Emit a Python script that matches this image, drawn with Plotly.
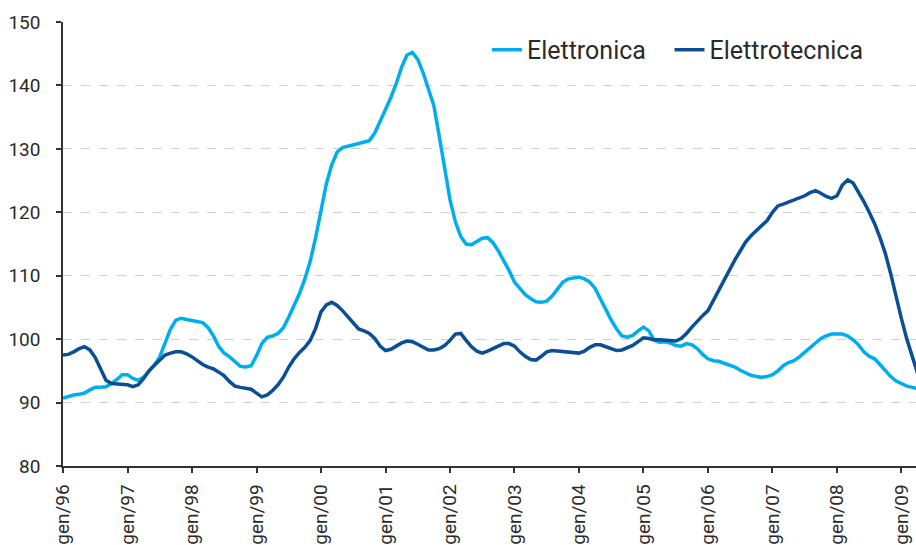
import plotly.graph_objects as go

months = list(range(160))
tick_months = [0, 12, 24, 36, 48, 60, 72, 84, 96, 108, 120, 132, 144, 156]
tick_labels = ["gen/96", "gen/97", "gen/98", "gen/99", "gen/00", "gen/01", "gen/02",
               "gen/03", "gen/04", "gen/05", "gen/06", "gen/07", "gen/08", "gen/09"]

elettronica = [
    90.7, 91.0, 91.2, 91.3, 91.5, 92.0, 92.4, 92.4, 92.5, 93.0, 93.6, 94.4,
    94.4, 93.8, 93.5, 94.0, 94.9, 95.9, 97.2, 99.3, 101.6, 103.0, 103.3, 103.1,
    102.9, 102.8, 102.6, 101.8, 100.5, 98.8, 97.8, 97.2, 96.4, 95.7, 95.6, 95.8,
    97.4, 99.3, 100.3, 100.5, 100.9, 101.8, 103.5, 105.3, 107.2, 109.5, 112.3, 116.0,
    120.5, 124.5, 127.5, 129.5, 130.2, 130.4, 130.6, 130.8, 131.0, 131.3, 132.5, 134.2,
    136.2, 138.1, 140.3, 142.9, 144.8, 145.2, 144.1, 142.0, 139.2, 136.8, 132.0, 127.0,
    122.0, 118.5, 116.2, 115.0, 114.9, 115.4, 115.9, 116.0, 115.2, 113.9, 112.4, 110.8,
    109.0, 107.9, 107.0, 106.4, 105.9, 105.8, 106.0, 106.8, 107.9, 109.0, 109.5, 109.7,
    109.8, 109.5, 109.0, 108.0, 106.3, 104.8, 103.0, 101.6, 100.5, 100.3, 100.6, 101.3,
    101.9, 101.3, 99.8, 99.5, 99.6, 99.4, 99.0, 98.9, 99.3, 99.1, 98.5, 97.6,
    96.9, 96.6, 96.5, 96.2, 95.9, 95.6, 95.1, 94.7, 94.3, 94.1, 94.0, 94.1,
    94.4, 95.0, 95.8, 96.3, 96.6, 97.2, 97.9, 98.6, 99.4, 100.1, 100.5, 100.8,
    100.8, 100.8, 100.5, 99.9, 99.1, 98.0, 97.3, 96.9, 96.0, 95.0, 94.1, 93.4,
    93.0, 92.6, 92.4, 92.2,
]

elettrotecnica = [
    97.5, 97.6, 98.0, 98.5, 98.8, 98.3, 97.1, 95.2, 93.5, 93.0, 92.9, 92.8,
    92.8, 92.5, 92.8, 93.8, 95.0, 95.9, 96.8, 97.5, 97.8, 98.0, 98.0, 97.7,
    97.2, 96.6, 96.0, 95.6, 95.3, 94.8, 94.2, 93.3, 92.6, 92.4, 92.3, 92.1,
    91.5, 90.9, 91.2, 91.9, 92.8, 94.0, 95.6, 96.9, 97.9, 98.7, 99.8, 101.7,
    104.3, 105.4, 105.8, 105.3, 104.5, 103.5, 102.4, 101.6, 101.3, 100.9, 100.1, 98.9,
    98.2, 98.4, 98.9, 99.4, 99.7, 99.6, 99.2, 98.7, 98.3, 98.3, 98.5, 99.0,
    99.8, 100.8, 100.9, 99.8, 98.8, 98.1, 97.8, 98.1, 98.5, 98.9, 99.3, 99.3,
    98.9, 98.0, 97.3, 96.8, 96.7, 97.3, 98.0, 98.2, 98.1, 98.0, 97.9, 97.9,
    97.8, 98.1, 98.7, 99.1, 99.1, 98.8, 98.5, 98.2, 98.3, 98.6, 99.0, 99.6,
    100.2, 100.1, 99.9, 99.9, 99.8, 99.7, 99.7, 100.1, 100.9, 101.9, 102.9, 103.7,
    104.5, 106.1, 107.9, 109.3, 110.9, 112.5, 113.9, 115.3, 116.3, 117.1, 117.8, 118.7,
    120.0, 121.0, 121.3, 121.6, 121.9, 122.2, 122.6, 123.1, 123.4, 123.0, 122.5, 122.2,
    122.6, 124.3, 125.1, 124.6, 123.2, 121.7, 120.0, 118.2, 116.0, 113.5, 110.3, 106.6,
    103.2, 100.0, 97.4, 94.6,
]

y_ticks = [80, 90, 100, 110, 120, 130, 140, 150]

FONT = "Roboto, 'DejaVu Sans', sans-serif"
TXT = "#2b2b2b"

fig = go.Figure()
fig.add_trace(go.Scatter(x=months, y=elettronica, mode="lines", name="Elettronica\u00a0\u00a0\u00a0",
                         line=dict(color="#00aeef", width=3.5)))
fig.add_trace(go.Scatter(x=months, y=elettrotecnica, mode="lines", name="Elettrotecnica",
                         line=dict(color="#0a4f95", width=3.5)))

fig.update_layout(
    width=916, height=545,
    margin=dict(l=63, r=0, t=22, b=79),
    paper_bgcolor="white", plot_bgcolor="white",
    font=dict(family=FONT, color=TXT),
    showlegend=True,
    legend=dict(orientation="h", x=0.497, xanchor="left", y=0.937, yanchor="middle",
                font=dict(size=25, color=TXT), bgcolor="rgba(0,0,0,0)",
                itemwidth=30, tracegroupgap=0),
    xaxis=dict(range=[0, 158.7], tickmode="array", tickvals=tick_months, ticktext=tick_labels,
               tickangle=-90, tickfont=dict(size=19, color=TXT), automargin=False,
               ticklabelstandoff=4,
               showgrid=False, zeroline=False, showline=True, linecolor="#333333", linewidth=1.5,
               ticks="outside", ticklen=5, tickcolor="#333333", tickwidth=1.5),
    yaxis=dict(range=[80, 150], tickmode="array", tickvals=y_ticks, automargin=False,
               tickfont=dict(size=19, color=TXT), ticklabelstandoff=12,
               showgrid=True, gridcolor="#d0d0d0", griddash="dash", gridwidth=1,
               zeroline=False, showline=True, linecolor="#333333", linewidth=1.5,
               ticks="outside", ticklen=5, tickcolor="#333333", tickwidth=1.5),
)

fig.write_html("out.html", config={"displayModeBar": False},
               post_script="document.body.style.margin='0';document.body.style.overflow='hidden';")
